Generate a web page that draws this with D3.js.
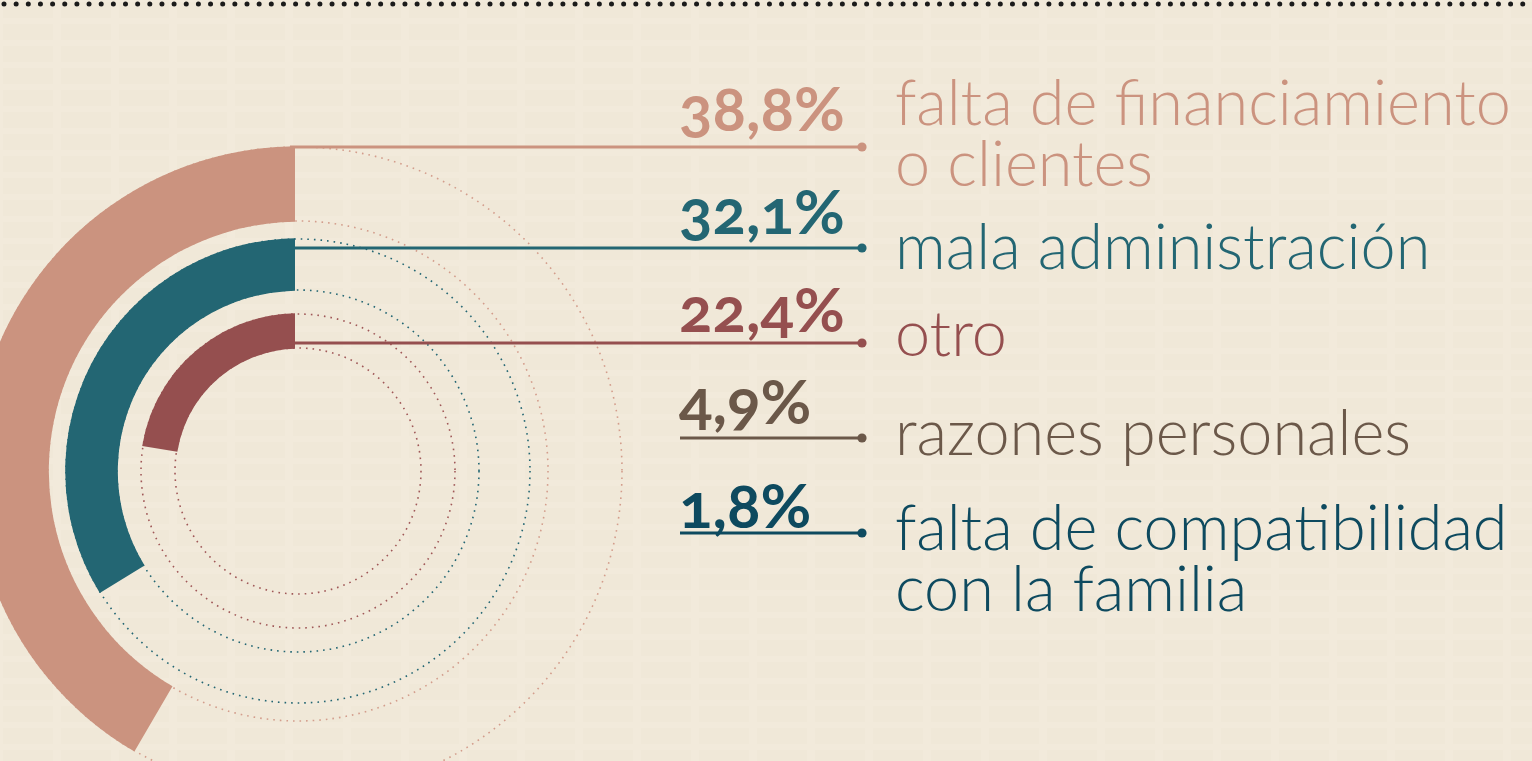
<!DOCTYPE html>
<html>
<head>
<meta charset="utf-8">
<script src="https://cdn.jsdelivr.net/npm/d3@7"></script>
<style>
    html, body { margin: 0; padding: 0; background: #f2eadb; overflow: hidden; }
    svg { display: block; }
</style>
</head>
<body>
<script>
// data
const categories = [
    ["falta de financiamiento", "o clientes"],
    ["mala administración"],
    ["otro"],
    ["razones personales"],
    ["falta de compatibilidad", "con la familia"]
];
const values = [38.8, 32.1, 22.4, 4.9, 1.8];
const colors = ["#cb937f", "#236673", "#954f4f", "#6b5849", "#0e4a5f"];
const ringColors = ["#d39d8c", "#236673", "#a05858"];

// layout
const W = 1532, H = 761;
const cx = 298, cy = 471;
const rings = [[250, 324], [181, 232], [123, 157]];   // only the 3 big ones get a ring
const pctDy = [-16, -14, -11, -14, -5];
const labelDy = [-22, 21, 13, 17, 17];
const lineH = 61;

const fmt = d3.formatLocale({ decimal: ",", thousands: "." }).format(".1f");
const toRad = Math.PI / 180;

// angle per value, rings start a bit right of 12 o'clock and get clipped
const angle = d3.scaleLinear().domain([0, 100]).range([0, 420 * toRad]);
const startAngle = 13.2 * toRad;

const rowY = d3.scaleLinear().domain([0, 4]).range([153, 533]);
const lineY = i => i === 0 ? cy - rings[0][1] : rowY(i);

const svg = d3.select("body").append("svg")
    .attr("width", W)
    .attr("height", H);

// faint newsprint texture
const defs = svg.append("defs");
const pat = defs.append("pattern")
    .attr("id", "paper")
    .attr("patternUnits", "userSpaceOnUse")
    .attr("width", 58).attr("height", 22);
pat.append("rect").attr("x", 3).attr("y", 2).attr("width", 50).attr("height", 16)
    .attr("fill", "#e7ddc8").attr("opacity", 0.14);

svg.append("rect").attr("width", W).attr("height", H).attr("fill", "#f2eadb");
svg.append("rect").attr("width", W).attr("height", H).attr("fill", "url(#paper)");

// dotted rule on top
svg.append("line")
    .attr("x1", 4).attr("x2", W).attr("y1", 4).attr("y2", 4)
    .attr("stroke", "#1b1b1b")
    .attr("stroke-width", 5)
    .attr("stroke-linecap", "round")
    .attr("stroke-dasharray", "0,12.15");

// dotted guide circles
const guides = svg.append("g").attr("transform", `translate(${cx},${cy})`);
rings.forEach((r, i) => {
    r.forEach(rad => {
        guides.append("circle")
            .attr("r", rad)
            .attr("fill", "none")
            .attr("stroke", ringColors[i])
            .attr("stroke-width", 1.6)
            .attr("stroke-dasharray", "1.6,5");
    });
});

// arcs
defs.append("clipPath").attr("id", "clipArc")
    .append("rect").attr("x", 0).attr("y", 0).attr("width", 295).attr("height", H);

const arc = d3.arc();
const arcs = svg.append("g").attr("clip-path", "url(#clipArc)")
    .append("g").attr("transform", `translate(${cx},${cy})`);

arcs.selectAll("path")
    .data(values.slice(0, rings.length))
    .join("path")
    .attr("fill", (d, i) => colors[i])
    .attr("d", (d, i) => arc({
        innerRadius: rings[i][0] - 0.8,
        outerRadius: rings[i][1] + 0.8,
        startAngle: startAngle,
        endAngle: startAngle - angle(d)
    }));

// leader lines + dots
const rows = svg.append("g")
    .selectAll("g")
    .data(values)
    .join("g")
    .attr("transform", (d, i) => `translate(0,${lineY(i)})`);

rows.append("line")
    .attr("x1", (d, i) => i < rings.length ? 290 : 680)
    .attr("x2", 862)
    .attr("stroke", (d, i) => colors[i])
    .attr("stroke-width", 3);

rows.append("circle")
    .attr("cx", 862)
    .attr("r", 4.6)
    .attr("fill", (d, i) => colors[i]);

rows.append("text")
    .attr("x", 679)
    .attr("y", (d, i) => pctDy[i])
    .attr("fill", (d, i) => colors[i])
    .style("font-family", "Lato, 'Open Sans', sans-serif")
    .style("font-weight", 700)
    .style("font-size", "62px")
    .style("font-variant-numeric", "oldstyle-nums")
    .text(d => fmt(d) + "%");

const lbl = rows.append("text")
    .attr("x", 895)
    .attr("y", (d, i) => labelDy[i])
    .attr("fill", (d, i) => colors[i])
    .style("font-family", "Lato, 'Open Sans', sans-serif")
    .style("font-weight", 300)
    .style("font-size", "63px");

lbl.selectAll("tspan")
    .data((d, i) => categories[i])
    .join("tspan")
    .attr("x", 895)
    .attr("dy", (d, j) => j === 0 ? 0 : lineH)
    .text(d => d);
</script>
</body>
</html>
